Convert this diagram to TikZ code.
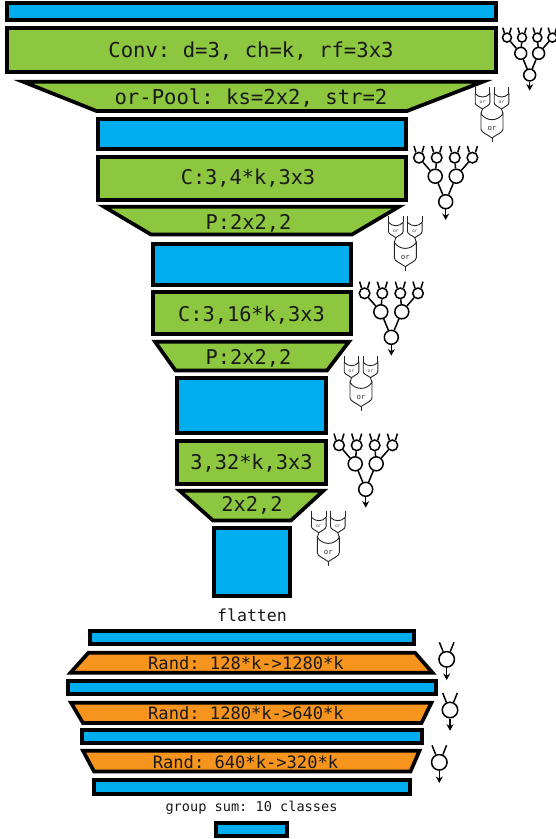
\documentclass[tikz,border=0pt]{standalone}
\usepackage{fontspec}
\setmonofont{DejaVu Sans Mono}
\usepackage{tikz}
\usetikzlibrary{arrows.meta,calc}
\definecolor{layerblue}{HTML}{00ADEF}
\definecolor{convgreen}{HTML}{8DC63F}
\definecolor{randorange}{HTML}{F7941E}
\tikzstyle{layer}=[draw=black, line width=3.7pt, line join=miter]
\tikzstyle{blob}=[layer, fill=layerblue]
\tikzstyle{conv}=[layer, fill=convgreen]
\tikzstyle{rand}=[layer, fill=randorange]
\tikzstyle{lbl}=[font=\ttfamily\fontsize{20.3}{20.3}\selectfont, text=black!90, inner sep=0pt]
\tikzstyle{lblw}=[lbl, font=\ttfamily\fontsize{20.6}{20.6}\selectfont]
\tikzstyle{lblr}=[lbl, font=\ttfamily\fontsize{17.1}{17.1}\selectfont]
\tikzstyle{neuron}=[circle, draw=black, line width=1.5pt, fill=white, inner sep=0pt]
\tikzstyle{gate}=[draw=black!85, line width=0.9pt, fill=white]
\tikzstyle{wire}=[draw=black, line width=1.5pt]
\tikzstyle{wireout}=[wire, -{Stealth[length=6.5pt,width=7pt]}]
% neuron tree: name, root x, root y, scale
\newcommand{\neurontree}[4]{
\begin{scope}[shift={(#2,#3)}, scale=#4, transform shape]
\node[neuron, minimum size=14pt] (#1r) at (0,0) {};
\node[neuron, minimum size=14pt] (#1m0) at (-10.5,-25.5) {};
\node[neuron, minimum size=14pt] (#1m1) at (10.5,-25.5) {};
\node[neuron, minimum size=10.6pt] (#1l0) at (-26.7,-44) {};
\node[neuron, minimum size=10.6pt] (#1l1) at (-9,-44) {};
\node[neuron, minimum size=10.6pt] (#1l2) at (9,-44) {};
\node[neuron, minimum size=10.6pt] (#1l3) at (26.7,-44) {};
\coordinate (#1o) at (0,18.3);
\foreach \n in {0,...,3} {
	\coordinate (#1a\n) at ($(#1l\n)+(-5,-11.7)$);
	\coordinate (#1b\n) at ($(#1l\n)+(5,-11.7)$);
	\draw[wire] (#1a\n) -- (#1l\n.120);
	\draw[wire] (#1b\n) -- (#1l\n.60);
}
\draw[wire] (#1l0) -- (#1m0);
\draw[wire] (#1l1) -- (#1m0);
\draw[wire] (#1l2) -- (#1m1);
\draw[wire] (#1l3) -- (#1m1);
\draw[wire] (#1m0) -- (#1r);
\draw[wire] (#1m1) -- (#1r);
\draw[wireout] (#1r) -- (#1o);
\end{scope}
}
% one neuron of the dense part: name, x, y
\newcommand{\neuronone}[3]{
\node[neuron, minimum size=15.5pt] (#1) at (#2,#3) {};
\coordinate (#1a) at (#2-7.3,#3-17);
\coordinate (#1b) at (#2+7.3,#3-17);
\coordinate (#1o) at (#2,#3+20.7);
\draw[wire] (#1a) -- (#1.115);
\draw[wire] (#1b) -- (#1.65);
\draw[wireout] (#1) -- (#1o);
}
% one or gate shape around (0,0) of the current scope
\newcommand{\orshape}[5]{
\draw[gate] (-#1,#2) .. controls (-#1*0.5,{(4*#3-#2)/3}) and (#1*0.5,{(4*#3-#2)/3}) .. (#1,#2) -- (#1,#4) .. controls (#1,{#4+0.4*(#5-#4)}) and (#1*0.4,{#5-0.4*(#5-#4)}) .. (0,#5) .. controls (-#1*0.4,{#5-0.4*(#5-#4)}) and (-#1,{#4+0.4*(#5-#4)}) .. (-#1,#4) -- cycle;
}
% three or gates: name, x, y of the big one
\newcommand{\orpair}[3]{
\begin{scope}[shift={(#2,#3)}]
\foreach \n/\s in {0/-1,1/1} {
	\draw[gate] (9.5*\s-7.3,-40.7) -- (9.5*\s-7.3,-34.4);
	\draw[gate] (9.5*\s+7.3,-40.7) -- (9.5*\s+7.3,-34.4);
	\draw[gate] (9.5*\s,-19) -- (11*\s,-14.3);
	\begin{scope}[shift={(9.5*\s,-26.7)}]
	\orshape{7.3}{-7.7}{-4.3}{1.7}{7.7}
	\node[font=\ttfamily\fontsize{4.6}{4.6}\selectfont, text=black!70, inner sep=0pt] (#1s\n) at (0,1) {or};
	\end{scope}
}
\orshape{11}{-14.3}{-8.3}{1}{10}
\draw[gate] (0,10) -- (0,13.8);
\node[font=\ttfamily\fontsize{7.4}{7.4}\selectfont, text=black!80, inner sep=0pt] (#1b) at (0,0.5) {or};
\end{scope}
}
\begin{document}
\begin{tikzpicture}[x=1pt, y=-1pt]
\useasboundingbox (0,0) rectangle (555,839);
% conv part
\draw[blob] (6.7,3) rectangle (496.3,20);
\draw[conv] (6.7,27.7) rectangle (496.3,72.3);
\draw[conv] (23,81.7) -- (483,81.7) -- (407,111) -- (96.5,111) -- cycle;
\node[lblw] (conv1) at (251,51) {Conv: d=3, ch=k, rf=3x3};
\node[lblw] (pool1) at (251,98) {or-Pool: ks=2x2, str=2};
\draw[blob] (97.7,118.7) rectangle (406.3,149.3);
\draw[conv] (97.7,156.7) rectangle (406.3,200.3);
\draw[conv] (104,206.7) -- (399,206.7) -- (352,234.5) -- (151,234.5) -- cycle;
\node[lbl] (conv2) at (248,178) {C:3,4*k,3x3};
\node[lbl] (pool2) at (248.5,223) {P:2x2,2};
\draw[blob] (152.7,243.7) rectangle (351.3,285.3);
\draw[conv] (152.7,291.7) rectangle (351.3,334.3);
\draw[conv] (155,341.7) -- (349,341.7) -- (327,370.5) -- (175.5,370.5) -- cycle;
\node[lbl] (conv3) at (251.5,315) {C:3,16*k,3x3};
\node[lbl] (pool3) at (248.5,358) {P:2x2,2};
\draw[blob] (176.7,377.7) rectangle (326.3,433.3);
\draw[conv] (176.7,440.7) rectangle (326.3,484.3);
\draw[conv] (179.5,490.7) -- (323.5,490.7) -- (291,520.5) -- (213,520.5) -- cycle;
\node[lbl] (conv4) at (251.5,463) {3,32*k,3x3};
\node[lbl] (pool4) at (252,505) {2x2,2};
\draw[blob] (213.7,527.7) rectangle (290.3,596.3);
\node[lbl, font=\ttfamily\fontsize{16.6}{16.6}\selectfont] (flat) at (252,615) {flatten};
% dense part
\draw[blob] (89.7,630.7) rectangle (414.3,644.3);
\draw[rand] (88.5,652.7) -- (415,652.7) -- (432.5,672.7) -- (70.5,672.7) -- cycle;
\node[lblr] (rand1) at (246,663) {Rand: 128*k->1280*k};
\draw[blob] (67.7,680.7) rectangle (436.3,694.3);
\draw[rand] (71,702.7) -- (431.5,702.7) -- (421.5,723) -- (83,723) -- cycle;
\node[lblr] (rand2) at (246,713) {Rand: 1280*k->640*k};
\draw[blob] (81.7,729.7) rectangle (422.3,743.3);
\draw[rand] (83,750.7) -- (419.5,750.7) -- (410.5,771.5) -- (94,771.5) -- cycle;
\node[lblr] (rand3) at (245.5,762) {Rand: 640*k->320*k};
\draw[blob] (93.7,779.7) rectangle (410.3,794.3);
\node[lbl, font=\ttfamily\fontsize{13.6}{13.6}\selectfont] (gsum) at (251.5,808) {group sum: 10 classes};
\draw[blob] (215.7,822.7) rectangle (287.3,836.3);
% neurons on the right
\neurontree{ta}{529.7}{75}{0.85}
\neurontree{tb}{445.7}{201.7}{1}
\neurontree{tc}{391.3}{337.3}{1}
\neurontree{td}{365.7}{489.3}{1}
\orpair{ga}{492}{128}
\orpair{gb}{405.3}{256.7}
\orpair{gc}{361}{396.7}
\orpair{gd}{328.3}{551.7}
\neuronone{na}{446.7}{659.3}
\neuronone{nb}{450}{710}
\neuronone{nc}{439.3}{762.3}
\end{tikzpicture}
\end{document}
